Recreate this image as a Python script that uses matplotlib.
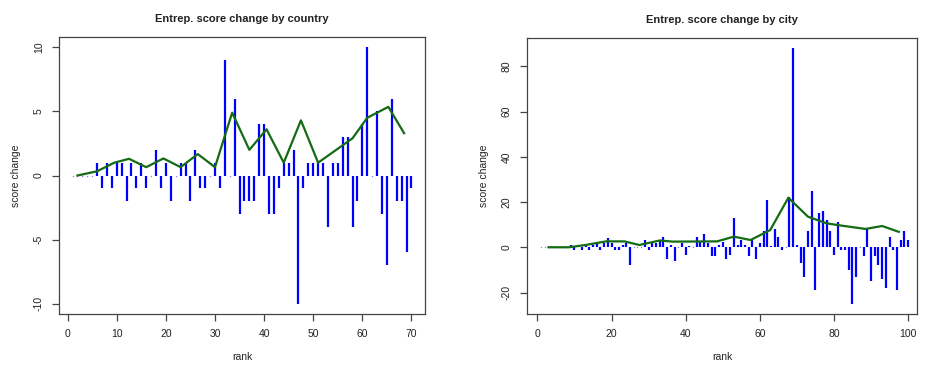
import matplotlib
matplotlib.use("Agg")
import matplotlib.pyplot as plt
import numpy as np

plt.rcParams["font.family"] = ["Liberation Sans", "DejaVu Sans"]

# ---- data: country panel ----
country_rank = np.arange(1, 71)
country_change = [0, 0, 0, 0, 0, 1, -1, 1, -1, 1,
                  1, -2, 1, -1, 1, -1, 0, 2, -1, 1,
                  -2, 0, 1, 1, -2, 2, -1, -1, 0, 1,
                  -1, 9, 0, 6, -3, -2, -2, -2, 4, 4,
                  -3, -3, -1, 1, 1, 2, -10, -1, 1, 1,
                  1, 1, -4, 1, 1, 3, 3, -4, -2, 4,
                  10, 0, 5, -3, -7, 6, -2, -2, -6, -1]
country_trend_x = [2, 6, 9.5, 12.5, 16, 19.5, 23, 26.5, 30, 33.5, 37,
                   40.5, 44, 47.5, 51, 54.5, 58, 61, 63, 65.3, 68.5]
country_trend_y = [0, 0.33, 1.0, 1.3, 0.65, 1.33, 0.65, 1.67, 0.65, 4.9, 2.0,
                   3.6, 1.0, 4.3, 1.0, 1.95, 2.9, 4.5, 4.9, 5.35, 3.3]

# ---- data: city panel ----
city_rank = np.arange(1, 101)
city_change = [0, 0, 0, 0, 0, 0, 0, 0, 1, -1,
               1, -1, 0.7, -1, 1, 2, -1, 2, 4, 2,
               -1, -1, 1, 2, -8, 0, 0, 0, 3, -1,
               2.3, 1.8, 3, 4.7, -5, 1, -6, 0, 1.8, -3.5,
               0.6, 0, 4.7, 2.5, 6, 2, -4, -4, 1, 2.5,
               -5, -3.5, 13, 1, 3, 1, -4, 3, -5, 1.8,
               7, 21, 0.5, 8, 4.7, -1, 0, 22, 88, 1,
               -7, -13, 7, 25, -19, 15, 16, 12, 7, -3.4,
               11, -1, -1, -10, -25, -13, 0, -4, 8, -15,
               -4, -8, -14, -18, 4.7, -1, -19, 3, 7, 3]
city_trend_x = [3, 8.5, 13, 18.5, 23.5, 27.5, 33, 36.5, 48.5, 53, 57.5,
                62.8, 67.7, 73, 78, 81, 88.5, 93, 97.5]
city_trend_y = [0, 0, 1.0, 2.6, 2.6, 1.0, 3.0, 2.5, 2.6, 4.7, 3.2,
                7.6, 21.9, 13.5, 10.6, 9.8, 8.1, 9.4, 6.8]

text_col = "#222222"

fig = plt.figure(figsize=(9.27, 3.66), dpi=100)
ax1 = fig.add_axes([59 / 927, 52 / 366, 366 / 927, 277 / 366])
ax2 = fig.add_axes([527 / 927, 52 / 366, 390 / 927, 276 / 366])


def draw(ax, rank, change, tx, ty, title, xlim, ylim, xticks, yticks):
    change = np.asarray(change, dtype=float)
    nz = change != 0
    ax.vlines(rank[nz], 0, change[nz], color="#0000ff", lw=1.6)
    ax.plot(rank[~nz], change[~nz], "s", ms=0.9, color="#7f7fff", mew=0)
    ax.plot(tx, ty, color="#136b13", lw=1.6)
    ax.set_xlim(*xlim)
    ax.set_ylim(*ylim)
    ax.set_xticks(xticks)
    ax.set_yticks(yticks)
    ax.set_yticklabels([str(v) for v in yticks], rotation=90, va="center")
    ax.tick_params(direction="out", length=5, width=0.9, colors="#444444",
                   labelcolor=text_col, labelsize=7.5, pad=6)
    for s in ax.spines.values():
        s.set_color("#444444")
        s.set_linewidth(0.9)
    ax.set_title(title, fontsize=8, fontweight="bold", color=text_col, pad=11)
    ax.set_xlabel("rank", fontsize=7.5, color=text_col, labelpad=9)
    ax.set_ylabel("score change", fontsize=7.5, color=text_col, labelpad=9)


draw(ax1, country_rank, country_change, country_trend_x, country_trend_y,
     "Entrep. score change by country", (-1.76, 72.76), (-10.8, 10.8),
     range(0, 71, 10), [-10, -5, 0, 5, 10])
draw(ax2, city_rank, city_change, city_trend_x, city_trend_y,
     "Entrep. score change by city", (-2.8, 102.4), (-29.5, 92.5),
     range(0, 101, 20), [-20, 0, 20, 40, 60, 80])

plt.savefig("out.png", dpi=100)
plt.close()
